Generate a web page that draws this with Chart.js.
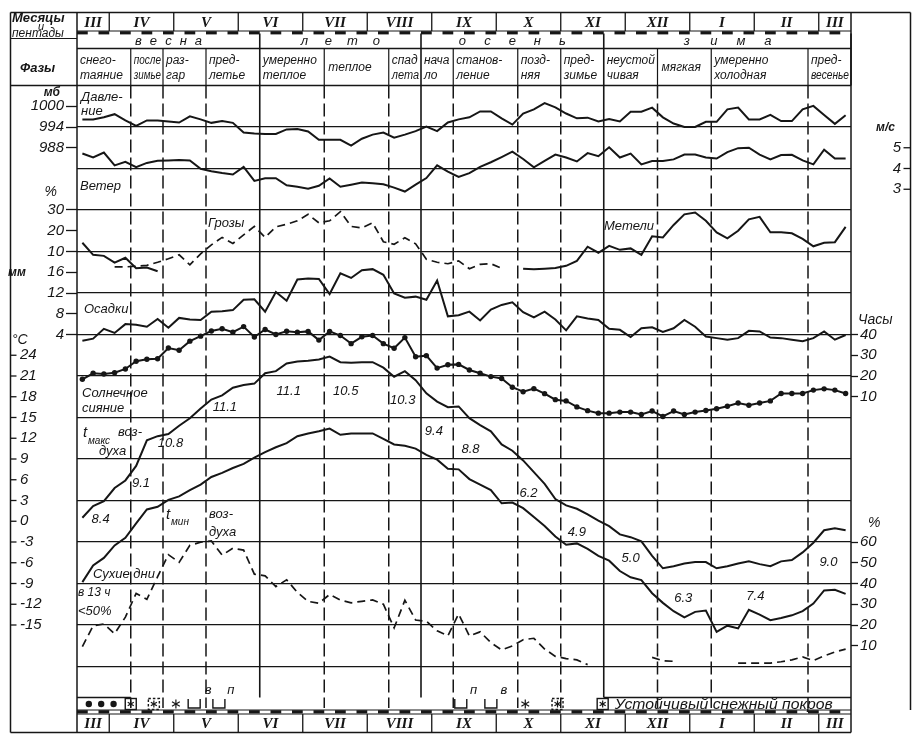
<!DOCTYPE html>
<html lang="ru">
<head>
<meta charset="utf-8">
<title>Климатограмма по пентадам</title>
<script src="https://cdn.jsdelivr.net/npm/chart.js@4.4.1/dist/chart.umd.min.js"></script>
<style>
  html, body { margin: 0; padding: 0; background: #fff; }
  #wrap { width: 915px; height: 734px; position: relative; }
</style>
</head>
<body>
<div id="wrap"><canvas id="chart"></canvas></div>
<script>
const PENTADS = 72;   // 16 March .. 15 March
const ROWS = 15;      // grid rows of the sheet

const monthLabels = ['III', 'IV', 'V', 'VI', 'VII', 'VIII', 'IX', 'X', 'XI', 'XII', 'I', 'II', 'III'];
const monthBounds = [0, 3, 9, 15, 21, 27, 33, 39, 45, 51, 57, 63, 69, 72];
const seasonNames = ['весна', 'лето', 'осень', 'зима'];
const seasonBounds = [0, 17, 32, 49, 72];
const phaseNames = [
    ['снего-', 'таяние'], ['после', 'зимье'], ['раз-', 'гар'], ['пред-', 'летье'],
    ['умеренно', 'теплое'], ['теплое'], ['спад', 'лета'], ['нача', 'ло'],
    ['станов-', 'ление'], ['позд-', 'няя'], ['пред-', 'зимье'], ['неустой', 'чивая'],
    ['мягкая'], ['умеренно', 'холодная'], ['пред-', 'весенье']
];
const phaseBounds = [0, 5, 8, 12, 17, 23, 29, 32, 35, 41, 45, 49, 54, 59, 68, 72];

// one value per pentad
const pressure = [
    996.2, 996.2, 996.8, 997.7, 995.9, 994.3, 995.9, 995.9, 995.6, 995.3,
    997.1, 996.2, 995.2, 995.7, 995.2, 992.4, 992.1, 992.0, 992.0, 993.3,
    993.4, 992.7, 990.3, 990.3, 990.3, 988.6, 990.6, 991.8, 992.4, 990.9,
    991.8, 992.8, 994.1, 992.8, 995.3, 996.2, 996.8, 998.5, 998.5, 996.5,
    994.7, 997.9, 999.1, 1000.9, 999.7, 997.9, 996.5, 996.7, 995.6, 996.3,
    995.6, 998.4, 998.4, 999.6, 996.8, 995.0, 994.0, 994.0, 995.5, 995.5,
    999.1, 999.6, 996.2, 996.2, 997.5, 995.7, 995.7, 999.1, 1000.1, 997.5,
    994.9, 997.4
];
const wind = [
    4.72, 4.53, 4.77, 4.15, 4.32, 4.06, 4.27, 4.37, 4.39, 4.41,
    4.39, 3.99, 3.87, 3.78, 3.71, 4.08, 3.40, 3.53, 3.53, 3.19,
    3.12, 3.03, 3.17, 3.52, 3.12, 3.22, 3.33, 3.29, 3.24, 3.08,
    2.89, 3.22, 3.54, 4.15, 3.85, 3.59, 3.78, 4.08, 4.30, 4.55,
    4.81, 4.46, 4.06, 4.37, 4.67, 4.53, 4.34, 4.74, 4.59, 5.02,
    4.53, 4.72, 4.20, 4.36, 4.36, 4.44, 4.67, 4.67, 4.53, 4.48,
    4.79, 4.98, 5.00, 4.67, 4.44, 4.65, 4.66, 4.39, 4.20, 4.91,
    4.48, 4.48
];
const thunder = [
    null, null, null, 2.6, 2.6, 2.9, 3.3, 4.8, 6.5, 8.4,
    3.6, 8.9, 13.2, 16.8, 13.9, 18.0, 22.1, 16.8, 21.9, 23.1,
    24.8, 27.9, 23.8, 24.8, 29.2, 22.1, 21.4, 23.8, 14.7, 13.5,
    16.6, 13.7, 6.3, 4.8, 4.1, 5.5, 1.7, 3.8, 4.1, 1.9,
    null, null, null, null, null, null, null, null, null, null,
    null, null, null, null, null, null, null, null, null, null,
    null, null, null, null, null, null, null, null, null, null,
    null, null
];
const blizzard = [
    14.2, 8.4, 7.9, 4.6, 7.0, 1.9, 2.3, 0.5, null, null,
    null, null, null, null, null, null, null, null, null, null,
    null, null, null, null, null, null, null, null, null, null,
    null, null, null, null, null, null, null, null, null, null,
    null, 1.7, 1.4, 1.7, 2.0, 3.1, 5.5, 12.3, 9.4, 12.7,
    10.8, 11.5, 8.4, 17.3, 16.8, 22.8, 27.9, 28.8, 24.8, 19.2,
    16.3, 20.0, 25.5, 26.7, 19.3, 19.3, 18.8, 16.1, 12.5, 14.2,
    14.5, 21.9
];
const precip = [
    2.8, 3.2, 5.1, 4.3, 6.0, 5.9, 5.5, 7.0, 5.3, 7.2,
    6.9, 6.8, 8.4, 8.5, 8.7, 10.7, 10.8, 8.4, 12.2, 10.5,
    14.6, 14.8, 14.7, 11.8, 15.8, 14.9, 16.4, 16.6, 15.5, 11.9,
    11.1, 11.3, 10.7, 14.4, 7.5, 7.7, 8.4, 6.7, 8.8, 9.7,
    10.2, 8.3, 7.3, 8.4, 6.9, 4.8, 7.5, 7.1, 6.8, 5.1,
    4.9, 3.5, 5.2, 5.4, 4.5, 5.2, 6.8, 5.5, 3.6, 3.3,
    3.0, 3.3, 4.7, 4.6, 3.4, 3.3, 3.0, 2.7, 3.3, 4.6,
    3.0, 3.9
];
const sunshine = [
    18.4, 21.3, 21.0, 21.6, 23.4, 27.1, 28.1, 28.3, 33.5, 32.4,
    36.8, 39.2, 41.7, 42.8, 41.1, 43.8, 38.8, 42.4, 40.0, 41.6,
    41.1, 41.5, 37.3, 41.5, 39.5, 35.6, 38.9, 39.5, 35.6, 33.4,
    38.5, 29.3, 29.8, 23.8, 25.4, 25.6, 22.9, 21.3, 19.7, 18.8,
    14.6, 12.4, 13.9, 11.5, 8.6, 8.0, 5.1, 3.3, 2.1, 2.1,
    2.6, 2.6, 1.5, 3.1, 0.5, 3.1, 1.5, 2.6, 3.4, 4.2,
    5.4, 7.0, 5.9, 7.0, 8.0, 11.6, 11.6, 11.6, 13.2, 13.8,
    13.2, 11.6
];
const tMax = [
    0.5, 2.2, 2.9, 4.8, 5.9, 8.0, 11.7, 12.3, 12.6, 13.8,
    14.9, 16.3, 17.6, 18.2, 19.3, 19.7, 19.9, 21.4, 21.7, 22.8,
    23.1, 23.2, 23.4, 23.8, 23.0, 22.9, 23.0, 23.0, 22.2, 20.9,
    21.7, 20.4, 18.5, 17.3, 16.5, 16.6, 14.9, 13.9, 13.0, 11.1,
    10.2, 8.8, 7.1, 5.4, 3.2, 2.3, 1.8, 1.0, 0.1, -0.7,
    -1.9, -2.3, -2.9, -5.0, -6.8, -6.5, -6.1, -5.9, -5.9, -6.8,
    -6.5, -6.1, -5.8, -6.2, -6.5, -5.8, -5.6, -4.5, -3.1, -1.3,
    -1.0, -1.3
];
const tMin = [
    -8.8, -6.4, -5.3, -3.5, -2.4, -0.3, 1.7, 2.1, 3.1, 3.6,
    4.5, 5.3, 6.4, 7.0, 7.7, 8.3, 9.2, 10.0, 10.7, 11.3,
    12.3, 12.7, 13.0, 13.4, 12.5, 12.7, 12.7, 12.7, 11.9, 11.1,
    10.9, 10.5, 9.6, 8.9, 7.6, 7.5, 6.1, 5.3, 4.5, 2.6,
    2.7, 1.9, 0.6, -0.7, -2.2, -3.4, -3.2, -4.0, -5.0, -5.7,
    -7.2, -8.1, -8.5, -10.4, -11.8, -13.0, -13.9, -13.1, -12.9, -16.0,
    -15.1, -15.5, -12.8, -13.5, -14.3, -14.0, -13.6, -13.0, -11.9, -10.0,
    -9.9, -10.5
];
const dryDays = [
    9.6, 19.6, 20.5, 15.8, 23.8, 35.2, 32.4, 43.3, 53.9, 50.2,
    58.4, 59.9, 60.5, 53.7, 57.0, 56.1, 44.5, 43.7, 38.5, 41.8,
    35.7, 31.4, 30.5, 34.7, 32.0, 30.7, 31.4, 32.1, 30.0, 18.6,
    31.9, 22.4, 21.8, 17.2, 14.8, 25.3, 14.7, 16.7, 11.5, 8.0,
    9.9, 12.9, 13.6, 8.4, 4.9, 3.8, 3.2, 0.9, null, null,
    null, null, null, 4.4, 2.8, 2.5, null, null, null, null,
    null, 1.6, 1.6, 1.6, 1.6, 2.3, 3.2, 4.6, 2.8, 5.1,
    7.0, 8.4
];

// daily range of air temperature per phase, and where it is written (pentad, °C)
const amplitudes = ['8.4', '9.1', '10.8', '11.1', '11.1', '10.5', '10.3', '9.4', '8.8', '6.2', '4.9', '5.0', '6.3', '7.4', '9.0'];
const amplitudeAt = [
    [2.2, 0.2], [5.95, 5.5], [8.7, 11.3], [13.75, 16.5], [19.7, 18.8], [25.0, 18.8], [30.3, 17.5],
    [33.2, 13.0], [36.6, 10.4], [42.0, 4.1], [46.5, -1.6], [51.5, -5.4], [56.4, -11.2], [63.1, -10.8], [69.9, -5.9]
];

// signs of the bottom row: pentad and kind
const snowSigns = [
    [1.1, 'dot'], [2.25, 'dot'], [3.4, 'dot'], [5.0, 'box'], [7.15, 'boxDash'], [9.2, 'star'],
    [10.9, 'cup'], [13.2, 'cup'], [35.7, 'cup'], [38.5, 'cup'], [41.7, 'star'], [44.7, 'boxDash'], [48.9, 'box']
];
const iceLetters = [[12.2, 'в'], [14.3, 'п'], [36.9, 'п'], [39.7, 'в']];

const pressureTicks = [1000, 994, 988];
const stormTicks = [30, 20, 10];
const precipTicks = [16, 12, 8, 4];
const tempTicks = [24, 21, 18, 15, 12, 9, 6, 3, 0, -3, -6, -9, -12, -15];
const windTicks = [5, 4, 3];
const sunTicks = [40, 30, 20, 10];
const dryTicks = [60, 50, 40, 30, 20, 10];

const INK = '#161616';
const FONT = '"Liberation Sans", "DejaVu Sans", sans-serif';
const SERIF = '"Liberation Serif", "DejaVu Serif", serif';
const AXIS_FONT = { family: FONT, size: 15, style: 'italic' };

const TOP = 12.5, MONTH_BOT = 31, SEASON_TOP = 33.5, PHASE_TOP = 48.5;
const BOX_LINE = 697.5, STRIP_BOT = 710, MONTH2_TOP = 714, FRAME_BOT = 732.5;
const LEFT = 10.5, RIGHT = 910.5;

// scale that puts `value` on sheet row `row` with `perRow` units per row
function band(position, value, row, perRow, tickValues, tickLength) {
    return {
        position: position,
        min: value - perRow * (ROWS - row),
        max: value + perRow * row,
        afterBuildTicks: s => { s.ticks = tickValues.map(v => ({ value: v })); },
        afterFit: s => { s.width = 0; },
        border: { display: false },
        grid: { drawOnChartArea: false, drawTicks: tickLength > 0, tickLength: tickLength, tickColor: INK, tickWidth: 1.3 },
        ticks: { autoSkip: false, padding: 2, color: INK, font: AXIS_FONT, callback: v => String(v) }
    };
}

function seg(c, x1, y1, x2, y2, w, dash) {
    c.save();
    c.strokeStyle = INK;
    c.lineWidth = w || 1.3;
    c.setLineDash(dash || []);
    c.beginPath();
    c.moveTo(x1, y1);
    c.lineTo(x2, y2);
    c.stroke();
    c.restore();
}

function put(c, s, x, y, size, align, maxW, weight, family) {
    c.save();
    c.fillStyle = INK;
    c.font = 'italic ' + (weight || 'normal') + ' ' + size + 'px ' + (family || FONT);
    c.textAlign = align || 'left';
    c.textBaseline = 'middle';
    const w = c.measureText(s).width;
    if (maxW && w > maxW) {
        c.translate(x, y);
        c.scale(maxW / w, 1);
        c.fillText(s, 0, 0);
    } else {
        c.fillText(s, x, y);
    }
    c.restore();
}

function stretch(c, s, x, y, size, width) {
    c.save();
    c.fillStyle = INK;
    c.font = 'italic ' + size + 'px ' + FONT;
    c.textBaseline = 'middle';
    const w = c.measureText(s).width;
    c.translate(x, y);
    c.scale(width / w, 1);
    c.fillText(s, 0, 0);
    c.restore();
}

function star(c, x, y, r) {
    for (let k = 0; k < 3; k++) {
        const t = Math.PI / 2 + k * Math.PI / 3;
        seg(c, x - r * Math.cos(t), y - r * Math.sin(t), x + r * Math.cos(t), y + r * Math.sin(t), 1.2);
    }
}

function sign(c, kind, x, y) {
    c.save();
    c.fillStyle = INK;
    c.strokeStyle = INK;
    c.lineWidth = 1.4;
    if (kind === 'dot') {
        c.beginPath();
        c.arc(x, y, 3.2, 0, Math.PI * 2);
        c.fill();
    } else if (kind === 'box' || kind === 'boxDash') {
        if (kind === 'boxDash') c.setLineDash([2.5, 2]);
        c.strokeRect(x - 5.5, y - 5.5, 11, 11);
        c.setLineDash([]);
        star(c, x, y, 3.5);
    } else if (kind === 'star') {
        star(c, x, y, 4.5);
    } else if (kind === 'cup') {
        c.beginPath();
        c.moveTo(x - 6, y - 5);
        c.lineTo(x - 6, y + 4);
        c.lineTo(x + 6, y + 4);
        c.lineTo(x + 6, y - 5);
        c.stroke();
    }
    c.restore();
}

function strip(c, X, y) {
    seg(c, X(0), y, X(PENTADS), y, 1);
    for (let p = 0; p < PENTADS; p += 2) {
        seg(c, X(p), y + 1.8, X(p + 1), y + 1.8, 3.2);
    }
}

function monthRow(c, X, y1, y2) {
    for (let i = 1; i < monthBounds.length - 1; i++) {
        seg(c, X(monthBounds[i]), y1, X(monthBounds[i]), y2, 1.3);
    }
    monthLabels.forEach((m, i) => {
        const xm = (X(monthBounds[i]) + X(monthBounds[i + 1])) / 2;
        put(c, m, xm, (y1 + y2) / 2 + 1, 15, 'center', null, 'bold', SERIF);
    });
}

const frame = {
    id: 'frame',
    afterLayout(chart) {
        // the narrow axes share one column: widen their label area so the labels are not clipped
        ['yP', 'yT', 'yR'].forEach(id => { chart.scales[id].left = 0; });
        ['yS', 'yD'].forEach(id => { chart.scales[id].right = chart.width; });
    },
    beforeDraw(chart) {
        const c = chart.ctx;
        c.save();
        c.fillStyle = '#fff';
        c.fillRect(0, 0, chart.width, chart.height);
        c.restore();
    },
    beforeDatasetsDraw(chart) {
        const a = chart.chartArea;
        const X = p => chart.scales.x.getPixelForValue(p);
        const c = chart.ctx;
        phaseBounds.forEach(p => {
            if (seasonBounds.indexOf(p) >= 0) return;
            seg(c, X(p), a.top, X(p), a.bottom, 1.5, [13, 5]);
        });
        seasonBounds.slice(1, -1).forEach(p => seg(c, X(p), a.top, X(p), BOX_LINE, 1.6));
    },
    afterDraw(chart) {
        const c = chart.ctx;
        const a = chart.chartArea;
        const s = chart.scales;
        const X = p => s.x.getPixelForValue(p);

        // frame of the sheet
        seg(c, LEFT, TOP, RIGHT, TOP, 1.5);
        seg(c, LEFT, TOP, LEFT, FRAME_BOT, 1.5);
        seg(c, RIGHT, TOP, RIGHT, STRIP_BOT, 1.5);
        seg(c, a.left, TOP, a.left, FRAME_BOT, 1.5);
        seg(c, a.right, TOP, a.right, FRAME_BOT, 1.5);
        seg(c, LEFT, 38.5, a.left, 38.5, 1.2);
        seg(c, a.left, PHASE_TOP, a.right, PHASE_TOP, 1.3);
        seg(c, LEFT, a.top, a.right, a.top, 1.5);
        seg(c, LEFT, FRAME_BOT, a.right, FRAME_BOT, 1.5);

        // months and pentads, top and bottom
        monthRow(c, X, TOP, MONTH_BOT);
        strip(c, X, MONTH_BOT);
        strip(c, X, STRIP_BOT);
        seg(c, a.left, MONTH2_TOP, a.right, MONTH2_TOP, 1);
        monthRow(c, X, MONTH2_TOP, FRAME_BOT);

        put(c, 'Месяцы', 12, 18, 13, 'left', 62, 'bold');
        put(c, 'и', 38, 26.5, 11, 'left');
        put(c, 'пентады', 12, 34, 12, 'left', 62);
        put(c, 'Фазы', 20, 68, 13, 'left', null, 'bold');

        // seasons
        const spacing = [15, 24, 25, 27];
        seasonNames.forEach((name, i) => {
            seg(c, X(seasonBounds[i + 1]), SEASON_TOP, X(seasonBounds[i + 1]), a.top, 1.6);
            const xm = (X(seasonBounds[i]) + X(seasonBounds[i + 1])) / 2;
            const n = name.length;
            for (let k = 0; k < n; k++) {
                put(c, name[k], xm + (k - (n - 1) / 2) * spacing[i], 41, 13, 'center');
            }
        });

        // phases
        phaseNames.forEach((lines, i) => {
            const x0 = X(phaseBounds[i]);
            const x1 = X(phaseBounds[i + 1]);
            if (i > 0 && seasonBounds.indexOf(phaseBounds[i]) < 0) seg(c, x0, PHASE_TOP, x0, a.top, 1.2);
            if (lines.length === 1) {
                put(c, lines[0], x0 + 4, 68, 12, 'left', x1 - x0 - 6);
            } else {
                put(c, lines[0], x0 + 3, 61, 12, 'left', x1 - x0 - 5);
                put(c, lines[1], x0 + 3, 76, 12, 'left', x1 - x0 - 5);
            }
        });

        // units
        put(c, 'мб', 60, 93, 12, 'right', null, 'bold');
        put(c, '%', 57, 192, 14, 'right');
        put(c, 'мм', 8, 273, 12, 'left', null, 'bold');
        put(c, '°C', 12, 340, 14, 'left');
        put(c, 'м/с', 876, 128, 12, 'left', null, 'bold');
        put(c, 'Часы', 858, 320, 14, 'left');
        put(c, '%', 868, 523, 14, 'left');

        // small ticks on the outer frame
        tempTicks.forEach(v => {
            const y = s.yC.getPixelForValue(v);
            seg(c, LEFT, y, LEFT + 6, y, 1.3);
        });
        windTicks.forEach(v => {
            const y = s.yW.getPixelForValue(v);
            seg(c, RIGHT - 7, y, RIGHT, y, 1.3);
        });

        // captions of the curves
        put(c, 'Давле-', 81, 97, 13, 'left');
        put(c, 'ние', 81, 111, 13, 'left');
        put(c, 'Ветер', 80, 186, 13, 'left');
        put(c, 'Грозы', 208, 223, 13, 'left');
        put(c, 'Метели', 604, 226, 13, 'left');
        put(c, 'Осадки', 84, 309, 13, 'left');
        put(c, 'Солнечное', 82, 393, 13, 'left');
        put(c, 'сияние', 82, 408, 13, 'left');
        put(c, 't', 83, 433, 15, 'left');
        put(c, 'макс', 88, 441, 10, 'left');
        put(c, 'воз-', 118, 432, 13, 'left');
        put(c, 'духа', 99, 451, 13, 'left');
        put(c, 't', 166, 515, 15, 'left');
        put(c, 'мин', 171, 522, 10, 'left');
        put(c, 'воз-', 209, 514, 13, 'left');
        put(c, 'духа', 209, 532, 13, 'left');
        put(c, 'Сухие дни', 93, 574, 13, 'left');
        put(c, 'в 13 ч', 78, 593, 12, 'left');
        put(c, '<50%', 78, 611, 13, 'left');

        amplitudes.forEach((t, i) => {
            put(c, t, X(amplitudeAt[i][0]), s.yC.getPixelForValue(amplitudeAt[i][1]), 13, 'center');
        });

        // bottom row of signs
        seg(c, a.left, BOX_LINE, X(5), BOX_LINE, 1.3);
        seg(c, X(49), BOX_LINE, a.right, BOX_LINE, 1.3);
        snowSigns.forEach(d => sign(c, d[1], X(d[0]), 704));
        iceLetters.forEach(d => put(c, d[1], X(d[0]), 690, 13, 'center'));
        stretch(c, 'Устойчивый снежный покров', X(48.9) + 12, 705, 14, 218);
    }
};

function series(label, values, axis, extra) {
    return Object.assign({
        label: label,
        yAxisID: axis,
        data: values.map((v, i) => ({ x: i + 0.5, y: v })),
        borderColor: INK,
        borderWidth: 2,
        pointRadius: 0,
        tension: 0,
        fill: false,
        spanGaps: false
    }, extra || {});
}

const tempAxis = band('left', 21, 7, 6, tempTicks, 0);
tempAxis.weight = 2;
tempAxis.afterFit = s => { s.width = 57; };
tempAxis.ticks.crossAlign = 'far';

const windAxis = band('right', 4, 2, 2, windTicks, 0);
windAxis.weight = 2;
windAxis.afterFit = s => { s.width = 50; };
windAxis.ticks.crossAlign = 'far';

new Chart(document.getElementById('chart'), {
    type: 'line',
    data: {
        datasets: [
            series('Давление', pressure, 'yP'),
            series('Ветер', wind, 'yW'),
            series('Грозы', thunder, 'yT', { borderDash: [8, 5], borderWidth: 1.7 }),
            series('Метели', blizzard, 'yT'),
            series('Осадки', precip, 'yR'),
            series('Солнечное сияние', sunshine, 'yS', { pointRadius: 2.7, pointBackgroundColor: INK, pointBorderWidth: 0 }),
            series('t макс воздуха', tMax, 'yC'),
            series('t мин воздуха', tMin, 'yC'),
            series('Сухие дни в 13 ч <50%', dryDays, 'yD', { borderDash: [8, 5], borderWidth: 1.7 })
        ]
    },
    options: {
        responsive: true,
        maintainAspectRatio: false,
        animation: false,
        events: [],
        layout: { padding: { top: 85.5, bottom: 26, left: 20, right: 14 } },
        plugins: { legend: { display: false }, tooltip: { enabled: false } },
        scales: {
            x: { type: 'linear', min: 0, max: PENTADS, display: false },
            yG: {
                position: 'left',
                min: 0,
                max: ROWS,
                reverse: true,
                weight: 0,
                afterFit: s => { s.width = 0; },
                border: { display: false },
                ticks: { display: false, stepSize: 1 },
                grid: {
                    drawTicks: false,
                    lineWidth: 1.2,
                    color: ctx => (ctx.tick && (ctx.tick.value === 0 || ctx.tick.value === ROWS)) ? 'rgba(0,0,0,0)' : INK
                }
            },
            yP: band('left', 994, 1, 12, pressureTicks, 11),
            yT: band('left', 30, 3, 20, stormTicks, 11),
            yR: band('left', 12, 5, 8, precipTicks, 11),
            yC: tempAxis,
            yW: windAxis,
            yS: band('right', 40, 6, 20, sunTicks, 7),
            yD: band('right', 60, 11, 20, dryTicks, 7)
        }
    },
    plugins: [frame]
});
</script>
</body>
</html>
